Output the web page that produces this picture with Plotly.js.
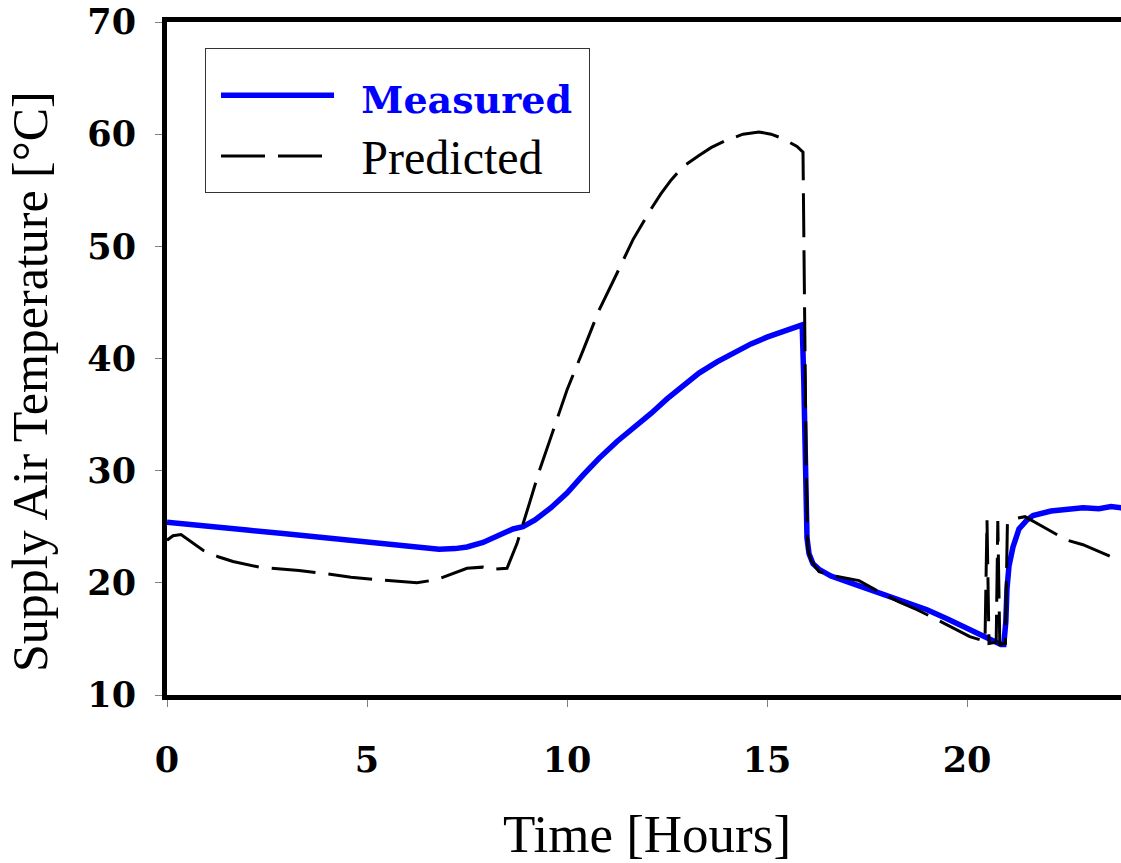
<!DOCTYPE html>
<html><head><meta charset="utf-8">
<script src="https://cdn.plot.ly/plotly-3.0.1.min.js"></script>
<style>html,body{margin:0;padding:0;overflow:hidden;background:#fff}#chart{width:1140px;height:863px}</style>
</head><body><div id="chart"></div>
<script>
// Time [hours]
var measuredTime = [0, 1, 2, 2.9, 4, 5.4, 6.3, 6.8, 7.2, 7.5, 7.9, 8.3, 8.65, 8.9, 9.2, 9.6, 10, 10.4, 10.8, 11.25, 11.7, 12.1, 12.5, 12.9, 13.3, 13.75, 14.2, 14.6, 15.0, 15.4, 15.7, 15.88, 15.92, 15.96, 16.0, 16.05, 16.15, 16.3, 16.6, 17.0, 17.5, 18.0, 18.5, 19.0, 19.5, 20.0, 20.5, 20.85, 20.92, 20.97, 21.0, 21.05, 21.15, 21.3, 21.5, 21.65, 22.1, 22.5, 22.9, 23.3, 23.6, 23.85, 24];
var measuredTemp = [25.4, 25.0, 24.7, 24.4, 24.0, 23.5, 23.2, 23.0, 23.05, 23.2, 23.6, 24.2, 24.8, 25.0, 25.6, 26.7, 28.0, 29.6, 31.1, 32.6, 33.9, 35.1, 36.4, 37.6, 38.7, 39.7, 40.6, 41.3, 41.9, 42.4, 42.7, 43.0, 38, 30, 24, 22.6, 21.7, 21.2, 20.6, 20.1, 19.5, 18.9, 18.3, 17.6, 16.8, 15.9, 15.0, 14.5, 14.5, 16.5, 19.5, 21.5, 23.2, 24.8, 25.6, 26.0, 26.4, 26.6, 26.7, 26.6, 26.8, 26.7, 26.4];

var predictedTime = [0, 0.15, 0.35, 0.6, 0.9, 1.3, 1.65, 2.3, 3.3, 4.0, 4.6, 5.2, 5.8, 6.25, 6.75, 7.2, 7.5, 7.9, 8.15, 8.5, 8.75, 9.07, 9.3, 9.57, 10.0, 10.4, 10.8, 11.25, 11.65, 12.08, 12.35, 12.6, 12.9, 13.3, 13.6, 13.95, 14.4, 14.8, 15.1, 15.4, 15.75, 15.9, 15.94, 15.98, 16.02, 16.1, 16.3, 16.7, 17.3, 17.8, 18.3, 18.75, 19.15, 19.6, 20.07, 20.45, 20.5, 20.55, 20.73, 20.77, 20.82, 20.96, 21.01, 21.15, 21.45, 22.0, 22.5, 22.9, 23.3, 23.75, 24.0];
var predictedTemp = [23.8, 24.2, 24.3, 23.7, 22.9, 22.3, 21.9, 21.4, 21.1, 20.8, 20.5, 20.3, 20.1, 20.0, 20.3, 20.9, 21.3, 21.4, 21.2, 21.3, 23.5, 27.2, 29.9, 32.7, 37.2, 40.7, 44.3, 47.6, 50.6, 53.2, 54.7, 55.9, 57.1, 58.1, 58.8, 59.4, 60.0, 60.2, 60.0, 59.6, 58.9, 58.4, 45, 30, 23, 22.0, 21.0, 20.6, 20.2, 19.2, 18.3, 17.6, 16.9, 16.1, 15.2, 14.8, 25.6, 14.6, 14.7, 25.5, 14.5, 14.6, 25.3, 25.7, 25.9, 24.8, 23.8, 23.4, 22.8, 22.1, 22.0];

var xTicks = [0, 5, 10, 15, 20];
var yTicks = [10, 20, 30, 40, 50, 60, 70];
var seriesNames = ['Measured', 'Predicted'];
var xTitle = 'Time [Hours]';
var yTitle = 'Supply Air Temperature [°C]';

var gap = '\u00a0\u00a0';
var data = [
  {x: measuredTime, y: measuredTemp, type: 'scatter', mode: 'lines',
   name: gap + '<span style="font-family:DejaVu Serif;font-weight:bold;font-size:38px;color:#0000ff">' + seriesNames[0] + '</span>\u00a0',
   line: {color: '#0000ff', width: 5.5}},
  {x: predictedTime, y: predictedTemp, type: 'scatter', mode: 'lines',
   name: gap + '<span style="font-size:48px">' + seriesNames[1] + '</span>',
   line: {color: '#000000', width: 3, dash: '44px,13px'}}
];

var tickFont = {family: 'DejaVu Serif', size: 35, color: '#000', weight: 'bold'};
var layout = {
  width: 1140, height: 863,
  margin: {l: 167, r: 13, t: 22, b: 168},
  paper_bgcolor: '#fff', plot_bgcolor: '#fff',
  showlegend: true,
  legend: {x: 0.0396, y: 0.961, xanchor: 'left', yanchor: 'top',
    bordercolor: '#333', borderwidth: 1, bgcolor: '#fff',
    font: {family: 'Liberation Serif', size: 44.6, color: '#000'},
    title: {text: '\u00a0', font: {size: 8}},
    indentation: 10,
    itemwidth: 113},
  xaxis: {range: [0, 24], tickvals: xTicks, ticktext: xTicks.map(String),
    ticks: 'outside', ticklen: 7, tickwidth: 1, tickcolor: '#808080',
    showline: true, linewidth: 5, linecolor: '#000', mirror: true,
    showgrid: false, zeroline: false, tickfont: tickFont, ticklabelstandoff: 23,
    title: {text: xTitle, font: {family: 'Liberation Serif', size: 53, color: '#000'}, standoff: 54}},
  yaxis: {range: [10, 70], tickvals: yTicks, ticktext: yTicks.map(String),
    ticks: 'outside', ticklen: 7, tickwidth: 1, tickcolor: '#808080',
    showline: true, linewidth: 5, linecolor: '#000', mirror: true,
    showgrid: false, zeroline: false, tickfont: tickFont, ticklabelstandoff: 12},
  annotations: [{text: yTitle, xref: 'paper', yref: 'paper',
    x: (30 - 167) / 960, y: (695 - 382) / 673, xanchor: 'center', yanchor: 'middle',
    textangle: -90, showarrow: false,
    font: {family: 'Liberation Serif', size: 50, color: '#000'}}]
};
Plotly.newPlot('chart', data, layout, {staticPlot: true});
</script></body></html>
